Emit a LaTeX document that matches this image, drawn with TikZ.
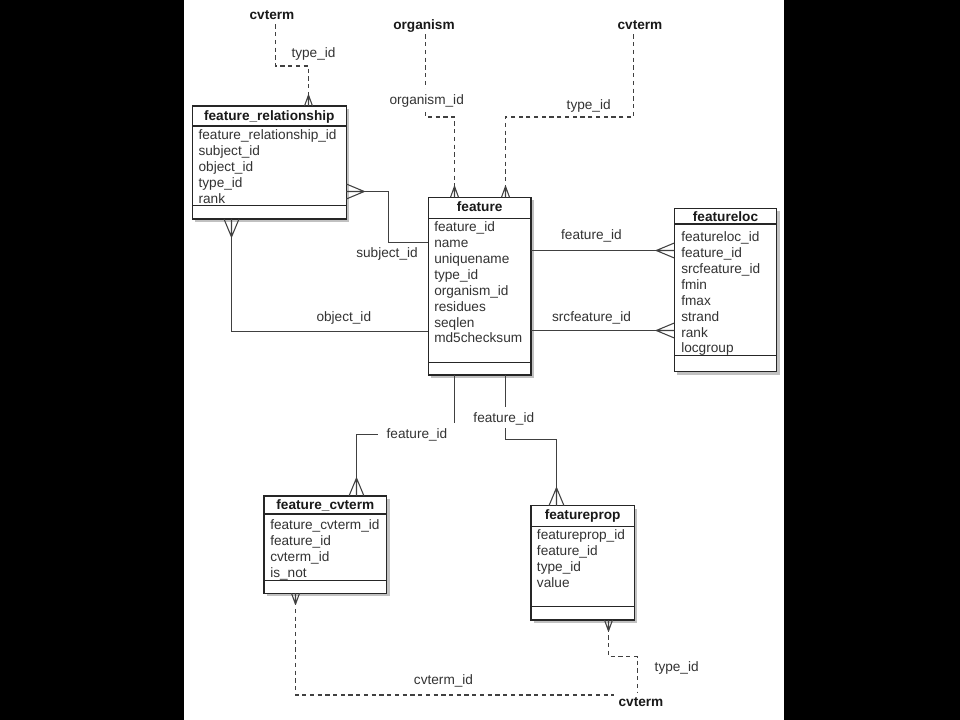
\documentclass[tikz,border=0pt]{standalone}
\usepackage{fontspec}
\setmainfont{Liberation Sans}
\usetikzlibrary{positioning,calc,fit,shadows}

\tikzset{
  tbl/.style={draw=black!85, line width=1pt, fill=white, inner sep=0pt, outer sep=0pt,
    drop shadow={shadow xshift=2pt, shadow yshift=-2pt, opacity=0.4, fill=black!60}},
  hdr/.style={font=\fontsize{9.7}{11}\selectfont\bfseries, text=black!90, inner sep=0pt, text height=7pt, text depth=0pt},
  ent/.style={hdr, inner sep=3pt},
  attr/.style={font=\fontsize{9.7}{11}\selectfont, text=black!80, anchor=west, inner sep=0pt, text height=7pt, text depth=0pt},
  lbl/.style={font=\fontsize{9.7}{11}\selectfont, text=black!80, inner sep=2pt, text height=7pt, text depth=0pt},
  onlbl/.style={lbl, fill=white, inner xsep=6pt, inner ysep=4pt},
  sepline/.style={draw=black!85, line width=0.9pt},
  relline/.style={draw=black!75, line width=0.75pt},
  fkline/.style={relline, dash pattern=on 3pt off 2.5pt},
  crowbig/.pic={\draw[relline] (18,0) -- (0,7.5) (18,0) -- (0,-7.5) (18,0) -- (0,0);},
  crowsmall/.pic={\draw[relline] (11,0) -- (0,4) (11,0) -- (0,-4) (11,0) -- (0,0);}
}

\begin{document}
\begin{tikzpicture}[x=0.025cm, y=-0.025cm]
    % Background
    \useasboundingbox (0,0) rectangle (960,720);
    \fill[black] (0,0) rectangle (960,720);
    \fill[white] (184,0) rectangle (784,720);

    % Referenced tables
    \node[ent] (cvTL) at (272,15) {cvterm};
    \node[ent] (org) at (424,25) {organism};
    \node[ent] (cvTR) at (640,25) {cvterm};
    \node[ent] (cvBot) at (641,701.7) {cvterm};

    % feature_relationship
    \node[tbl, fit={(192.3,106) (346.3,219)}] (frel) {};
    \node[hdr] (frelH) at ($(frel.north)+(0,9.5)$) {feature\_relationship};
    \draw[sepline] ($(frel.north west)+(0,20)$) -- ($(frel.north east)+(0,20)$);
    \draw[sepline] ($(frel.south west)+(0,-13.3)$) -- ($(frel.south east)+(0,-13.3)$);
    \foreach \f [count=\i from 0] in {feature\_relationship\_id, subject\_id, object\_id, type\_id, rank}
        \node[attr] (frel\i) at ($(frel.north west)+(6,29+15.9*\i)$) {\f};

    % feature
    \node[tbl, fit={(428.3,197.3) (531,375)}] (feat) {};
    \node[hdr] (featH) at ($(feat.north)+(0,9)$) {feature};
    \draw[sepline] ($(feat.north west)+(0,21)$) -- ($(feat.north east)+(0,21)$);
    \draw[sepline] ($(feat.south west)+(0,-12.7)$) -- ($(feat.south east)+(0,-12.7)$);
    \foreach \f [count=\i from 0] in {feature\_id, name, uniquename, type\_id, organism\_id, residues, seqlen, md5checksum}
        \node[attr] (feat\i) at ($(feat.north west)+(5.7,29.4+15.9*\i)$) {\f};

    % featureloc
    \node[tbl, fit={(674.3,208.3) (776.7,371.7)}] (floc) {};
    \node[hdr] (flocH) at ($(floc.north)+(0,8.4)$) {featureloc};
    \draw[sepline] ($(floc.north west)+(0,15.7)$) -- ($(floc.north east)+(0,15.7)$);
    \draw[sepline] ($(floc.south west)+(0,-16)$) -- ($(floc.south east)+(0,-16)$);
    \foreach \f [count=\i from 0] in {featureloc\_id, feature\_id, srcfeature\_id, fmin, fmax, strand, rank, locgroup}
        \node[attr] (floc\i) at ($(floc.north west)+(6.7,28.4+15.9*\i)$) {\f};

    % feature_cvterm
    \node[tbl, fit={(264,496) (386.7,593.3)}] (fcv) {};
    \node[hdr] (fcvH) at ($(fcv.north)+(0,9)$) {feature\_cvterm};
    \draw[sepline] ($(fcv.north west)+(0,18)$) -- ($(fcv.north east)+(0,18)$);
    \draw[sepline] ($(fcv.south west)+(0,-12.6)$) -- ($(fcv.south east)+(0,-12.6)$);
    \foreach \f [count=\i from 0] in {feature\_cvterm\_id, feature\_id, cvterm\_id, is\_not}
        \node[attr] (fcv\i) at ($(fcv.north west)+(6,29+15.9*\i)$) {\f};

    % featureprop
    \node[tbl, fit={(531,505.7) (634.3,620)}] (fprop) {};
    \node[hdr] (fpropH) at ($(fprop.north)+(0,9.3)$) {featureprop};
    \draw[sepline] ($(fprop.north west)+(0,21)$) -- ($(fprop.north east)+(0,21)$);
    \draw[sepline] ($(fprop.south west)+(0,-13.3)$) -- ($(fprop.south east)+(0,-13.3)$);
    \foreach \f [count=\i from 0] in {featureprop\_id, feature\_id, type\_id, value}
        \node[attr] (fprop\i) at ($(fprop.north west)+(5.7,29.3+15.9*\i)$) {\f};

    % Attachment points
    \coordinate (frelT) at ($(frel.north west)+(116.2,0)$);
    \coordinate (frelR) at ($(frel.north east)+(0,85.5)$);
    \coordinate (frelB) at ($(frel.south west)+(39.2,0)$);
    \coordinate (featT1) at ($(feat.north west)+(26.2,0)$);
    \coordinate (featT2) at ($(feat.north west)+(77.2,0)$);
    \coordinate (featL1) at ($(feat.north west)+(0,45.2)$);
    \coordinate (featL2) at ($(feat.north west)+(0,134.2)$);
    \coordinate (featB1) at ($(feat.south west)+(26.2,0)$);
    \coordinate (featB2) at ($(feat.south west)+(77.2,0)$);
    \coordinate (flocL1) at ($(floc.north west)+(0,42.2)$);
    \coordinate (flocL2) at ($(floc.north west)+(0,122.2)$);
    \coordinate (fcvT) at ($(fcv.north west)+(92.5,0)$);
    \coordinate (fcvB) at ($(fcv.south west)+(31.5,0)$);
    \coordinate (fpropT) at ($(fprop.north west)+(25.5,0)$);
    \coordinate (fpropB) at ($(fprop.south west)+(77.5,0)$);

    % Dashed links to lookup tables
    \draw[fkline] ($(cvTL.south)+(3.5,0)$) -- ++(0,41.6) -| (frelT);
    \draw[fkline] ($(org.south)+(1.5,0)$) -- ++(0,82.6) -| (featT1);
    \draw[fkline] ($(cvTR.south)+(-6.5,0)$) -- ++(0,82.6) -| (featT2);
    \draw[fkline] (fcvB) |- ($(cvBot.west)+(0,-6.7)$);
    \draw[fkline] (fpropB) -- ++(0,36.5) -| ($(cvBot.north)+(-3.5,0)$);

    % Solid links
    \draw[relline] (frelR) -- ++(42,0) |- (featL1);
    \draw[relline] (frelB) |- (featL2);
    \draw[relline] (feat.east |- flocL1) -- (flocL1);
    \draw[relline] (feat.east |- flocL2) -- (flocL2);
    \draw[relline] (featB1) -- ++(0,59.5) -| (fcvT);
    \draw[relline] (featB2) -- ++(0,64.5) -| (fpropT);

    % Crow's feet
    \pic[rotate=90] at (frelT) {crowsmall};
    \pic[rotate=90] at (featT1) {crowsmall};
    \pic[rotate=90] at (featT2) {crowsmall};
    \pic[rotate=-90] at (fcvB) {crowsmall};
    \pic[rotate=-90] at (fpropB) {crowsmall};
    \pic at (frelR) {crowbig};
    \pic[rotate=-90] at (frelB) {crowbig};
    \pic[rotate=180] at (flocL1) {crowbig};
    \pic[rotate=180] at (flocL2) {crowbig};
    \pic[rotate=90] at (fcvT) {crowbig};
    \pic[rotate=90] at (fpropT) {crowbig};

    % Link labels
    \node[lbl] (typeTL) at (313.5,53) {type\_id};
    \node[onlbl] (orgid) at (426.7,99.3) {organism\_id};
    \node[lbl] (typeTR) at (588.7,105) {type\_id};
    \node[lbl] (subj) at (387,252.7) {subject\_id};
    \node[lbl] (obj) at (343.8,316.7) {object\_id};
    \node[lbl] (flocF) at (591.5,235) {feature\_id};
    \node[lbl] (flocS) at (591.5,317) {srcfeature\_id};
    \node[onlbl] (fcvF) at (417,434) {feature\_id};
    \node[onlbl] (fpropF) at (503.8,417.3) {feature\_id};
    \node[lbl] (cvid) at (443.5,679.3) {cvterm\_id};
    \node[lbl] (typeB) at (676.7,666.7) {type\_id};
\end{tikzpicture}
\end{document}
